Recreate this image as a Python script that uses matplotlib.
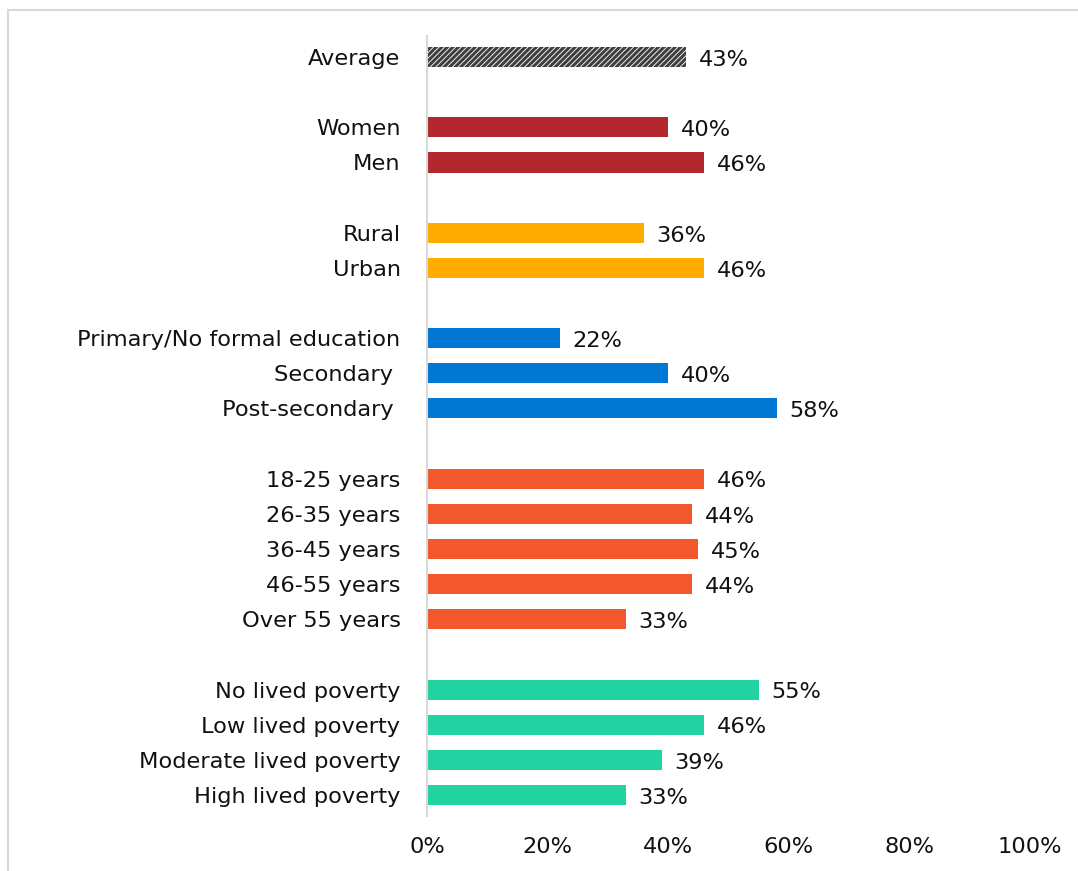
import matplotlib.pyplot as plt
from matplotlib.lines import Line2D
import numpy as np

plt.rcParams['font.family'] = ['DejaVu Sans']
plt.rcParams['hatch.linewidth'] = 2.2

# Data (percent)
labels = ["Average",
          "Women", "Men",
          "Rural", "Urban",
          "Primary/No formal education", "Secondary ", "Post-secondary ",
          "18-25 years", "26-35 years", "36-45 years", "46-55 years", "Over 55 years",
          "No lived poverty", "Low lived poverty", "Moderate lived poverty", "High lived poverty"]
values = [43,
          40, 46,
          36, 46,
          22, 40, 58,
          46, 44, 45, 44, 33,
          55, 46, 39, 33]
groups = [0, 1, 1, 2, 2, 3, 3, 3, 4, 4, 4, 4, 4, 5, 5, 5, 5]
group_colors = [None, "#B3282F", "#FFAB00", "#0078D4", "#F2582B", "#22D3A1"]

# slot positions: one empty slot between groups
positions = []
slot = 0
prev = groups[0]
for g in groups:
    if g != prev:
        slot += 1
        prev = g
    positions.append(slot)
    slot += 1

fs = 16.2
fig = plt.figure(figsize=(10.78, 8.71), dpi=100)
ax = fig.add_axes([427 / 1078, 55 / 871, 603 / 1078, 780 / 871])

for pos, val, g in zip(positions, values, groups):
    if g == 0:
        ax.barh(pos, val, height=0.57, color="white", edgecolor="#3f3f3f",
                hatch="//////", linewidth=0)
    else:
        ax.barh(pos, val, height=0.57, color=group_colors[g], linewidth=0)
    ax.annotate(f"{val}%", (val, pos), xytext=(9, -2), textcoords="offset points",
                ha="left", va="center", fontsize=fs, color="#111111")

ax.set_xlim(0, 100)
ax.set_ylim(positions[-1] + 0.6, -0.6)
ax.set_yticks(positions)
ax.set_yticklabels(labels, fontsize=fs, color="#111111")
ax.set_xticks(np.arange(0, 101, 20))
ax.set_xticklabels([f"{t}%" for t in range(0, 101, 20)], fontsize=fs, color="#111111")
ax.tick_params(axis="y", length=0, pad=19)
ax.tick_params(axis="x", length=0, pad=15)
for side in ["top", "right", "bottom"]:
    ax.spines[side].set_visible(False)
ax.spines["left"].set_color("#d9d9d9")
ax.spines["left"].set_linewidth(1.5)

# light grey frame around chart area (left and top edges visible)
fig.add_artist(Line2D([8 / 1078, 8 / 1078], [0, 1 - 10 / 871],
                      transform=fig.transFigure, color="#d9d9d9", linewidth=1.5))
fig.add_artist(Line2D([8 / 1078, 1], [1 - 10 / 871, 1 - 10 / 871],
                      transform=fig.transFigure, color="#d9d9d9", linewidth=1.5))

fig.savefig("out.png", dpi=100, facecolor="white")
